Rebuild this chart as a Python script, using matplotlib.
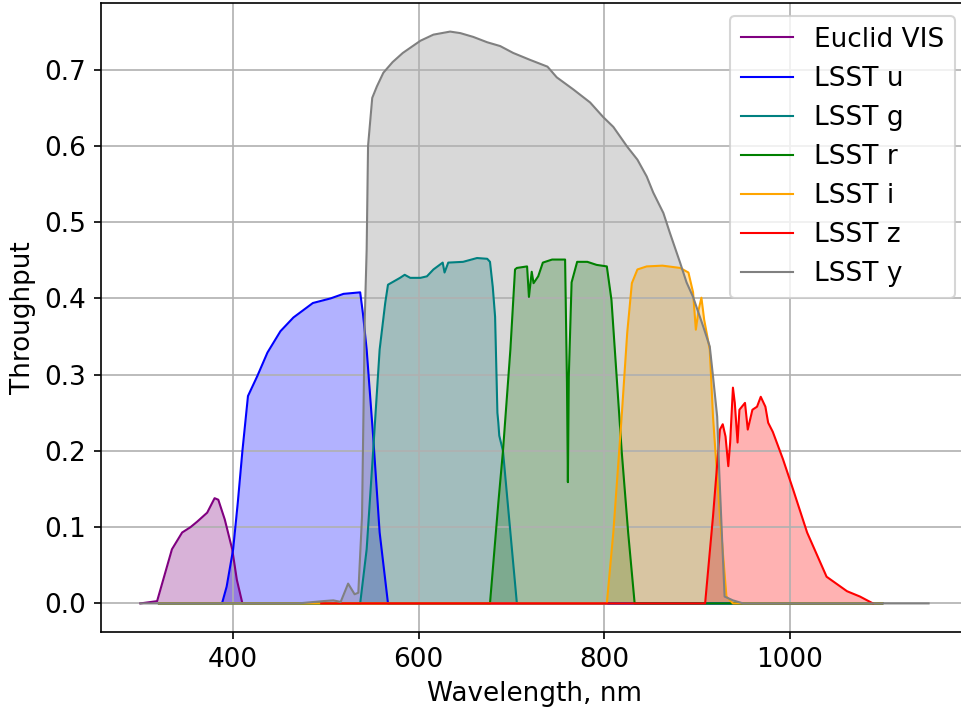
import matplotlib
matplotlib.use("Agg")
import matplotlib.pyplot as plt

# filter throughput curves
vis_wl = [300, 318, 334, 345, 354, 361, 372, 380, 384, 391, 399, 404, 410, 1100]
vis_tp = [0.0, 0.003, 0.071, 0.093, 0.1, 0.107, 0.119, 0.138, 0.136, 0.11, 0.071, 0.031, 0.0, 0.0]

u_wl = [320, 388, 393, 400, 405, 410, 416, 426, 437, 451, 465, 486, 505, 519, 537,
        540, 544, 551, 558, 564, 567, 1100]
u_tp = [0.0, 0.0, 0.022, 0.071, 0.132, 0.2, 0.272, 0.298, 0.329, 0.357, 0.375, 0.394,
        0.4, 0.406, 0.408, 0.38, 0.333, 0.219, 0.093, 0.031, 0.0, 0.0]

g_wl = [320, 537, 544, 551, 558, 564, 567, 580, 585, 591, 602, 609, 616, 626, 628, 632,
        648, 663, 674, 677, 680, 682.5, 685, 686, 687, 691, 699, 706, 1100]
g_tp = [0.0, 0.0, 0.071, 0.2, 0.333, 0.394, 0.418, 0.427, 0.431, 0.427, 0.427, 0.429,
        0.438, 0.447, 0.434, 0.447, 0.448, 0.453, 0.452, 0.448, 0.415, 0.376, 0.25,
        0.237, 0.22, 0.2, 0.093, 0.0, 0.0]

r_wl = [320, 677, 686, 691, 699, 704, 706, 717, 719, 722, 724, 729, 734, 744, 758, 760,
        761, 762, 765, 771, 782, 792, 803, 808, 814, 819, 826, 833, 1100]
r_tp = [0.0, 0.0, 0.132, 0.2, 0.333, 0.438, 0.44, 0.442, 0.402, 0.435, 0.42, 0.429,
        0.447, 0.451, 0.451, 0.29, 0.159, 0.298, 0.421, 0.448, 0.448, 0.444, 0.442,
        0.398, 0.29, 0.2, 0.093, 0.0, 0.0]

i_wl = [320, 803, 810, 819, 825, 830, 836, 846, 863, 882, 891, 896, 899, 902, 905, 908,
        914, 917.5, 925, 932, 939, 1100]
i_tp = [0.0, 0.0, 0.093, 0.245, 0.355, 0.42, 0.438, 0.442, 0.443, 0.44, 0.434, 0.408,
        0.359, 0.385, 0.401, 0.372, 0.333, 0.245, 0.114, 0.009, 0.0, 0.0]

z_wl = [495, 909, 917.5, 925, 928, 931, 934, 936, 939, 941, 944, 946, 952, 955, 960, 965,
        969, 974, 977, 982, 993, 1004, 1019, 1040, 1062, 1076, 1090]
z_tp = [0.0, 0.0, 0.114, 0.228, 0.235, 0.219, 0.18, 0.211, 0.283, 0.263, 0.211, 0.254,
        0.263, 0.228, 0.254, 0.258, 0.271, 0.258, 0.237, 0.225, 0.189, 0.149, 0.093,
        0.035, 0.016, 0.009, 0.0]

y_wl = [300, 470, 497, 508, 516, 524, 531, 535, 539, 542, 544, 545.5, 550, 555, 562, 572,
        583, 602, 616, 634, 645, 659, 674, 688, 702, 720, 739, 749, 767, 785, 799, 810,
        825, 836, 846, 853, 864, 871, 882, 889, 896, 907, 914, 917.5, 922, 924, 927,
        930, 939, 950, 1150]
y_tp = [0.0, 0.0, 0.003, 0.004, 0.002, 0.026, 0.012, 0.014, 0.114, 0.376, 0.464, 0.6,
        0.663, 0.678, 0.696, 0.71, 0.722, 0.738, 0.746, 0.75, 0.748, 0.743, 0.736,
        0.731, 0.722, 0.713, 0.704, 0.69, 0.674, 0.657, 0.638, 0.625, 0.599, 0.582,
        0.56, 0.539, 0.512, 0.486, 0.447, 0.421, 0.402, 0.363, 0.337, 0.298, 0.245,
        0.18, 0.093, 0.009, 0.004, 0.0, 0.0]

curves = [
    ("Euclid VIS", vis_wl, vis_tp, "purple"),
    ("LSST u", u_wl, u_tp, "blue"),
    ("LSST g", g_wl, g_tp, "teal"),
    ("LSST r", r_wl, r_tp, "green"),
    ("LSST i", i_wl, i_tp, "orange"),
    ("LSST z", z_wl, z_tp, "red"),
    ("LSST y", y_wl, y_tp, "gray"),
]

plt.rcParams["font.size"] = 12.6
fig = plt.figure(figsize=(961 / 150, 711 / 150), dpi=150)
# the right edge of the axes lies just past the image border, as in the reference
ax = fig.add_axes([101 / 961, 79 / 711, 867 / 961, 629 / 711])

for label, wl, tp, color in curves:
    ax.plot(wl, tp, color=color, linewidth=1.0, label=label)
    ax.fill_between(wl, tp, color=color, alpha=0.3, linewidth=0)

ax.set_xlim(257.5, 1192.5)
ax.set_ylim(-0.0375, 0.7875)
ax.set_xticks([400, 600, 800, 1000])
ax.set_yticks([0.0, 0.1, 0.2, 0.3, 0.4, 0.5, 0.6, 0.7])
ax.set_xlabel("Wavelength, nm")
ax.set_ylabel("Throughput")
ax.spines["right"].set_visible(False)
ax.grid(True)
ax.legend(loc="upper right")

fig.savefig("out.png", dpi=150)
